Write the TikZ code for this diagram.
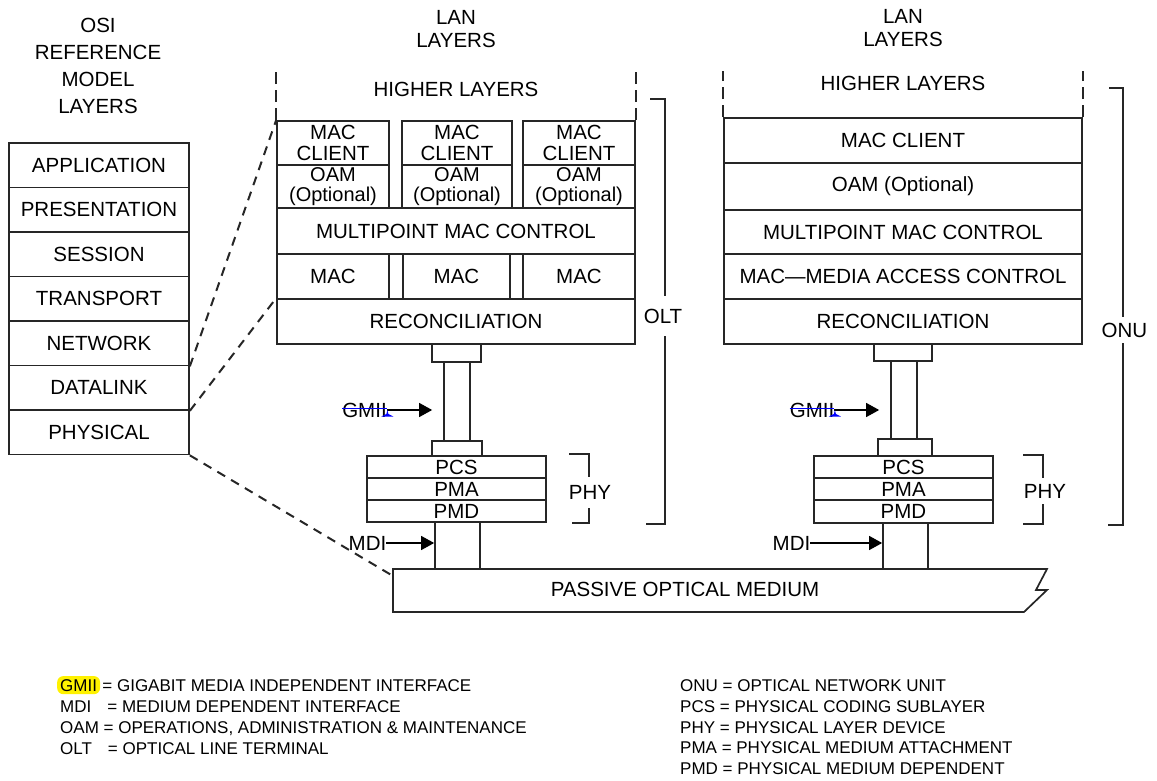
\documentclass[tikz,border=0pt]{standalone}
\usepackage{fontspec}
\setmainfont{Liberation Sans}
\usetikzlibrary{arrows.meta,positioning,calc}

\newcommand\diagfont{\fontsize{20.5}{21}\selectfont}
\newcommand\keyfont{\fontsize{17}{20}\selectfont}

\tikzset{
  stackbox/.style={draw=black!85, line width=1.7pt, inner sep=0pt, align=center, font=\diagfont},
  oamtext/.style={font={\fontsize{20}{19.5}\selectfont}},
  lbl/.style={inner sep=0pt, align=center, font=\diagfont},
  keytext/.style={inner sep=0pt, font=\keyfont, anchor=base west},
  zoomline/.style={black!85, line width=2pt, dash pattern=on 9pt off 7pt},
  higher/.style={black!85, line width=2.6pt, dash pattern=on 12pt off 6pt},
  brace/.style={black!85, line width=1.3pt},
  pointer/.style={black, line width=1.3pt, -{Triangle[length=13pt,width=14pt]}},
  strike/.style={blue, line width=1.6pt},
}

\begin{document}
\begin{tikzpicture}[x=1pt,y=-1pt]
\useasboundingbox (0,0) rectangle (1157,781);

% OSI reference model
\node[lbl, font={\fontsize{20.5}{27}\selectfont}] (osititle) at (98,66) {OSI\\REFERENCE\\MODEL\\LAYERS};
\node[stackbox, minimum width=180pt, minimum height=44.5pt] (application) at (99,165.25) {APPLICATION};
\node[stackbox, minimum width=180pt, minimum height=44.5pt] (presentation) at (99,209.75) {PRESENTATION};
\node[stackbox, minimum width=180pt, minimum height=44.5pt] (session) at (99,254.25) {SESSION};
\node[stackbox, minimum width=180pt, minimum height=44.5pt] (transport) at (99,298.75) {TRANSPORT};
\node[stackbox, minimum width=180pt, minimum height=44.5pt] (network) at (99,343.25) {NETWORK};
\node[stackbox, minimum width=180pt, minimum height=44.5pt] (datalink) at (99,387.75) {DATALINK};
\node[stackbox, minimum width=180pt, minimum height=44.5pt] (physical) at (99,432.25) {PHYSICAL};

% OLT side
\node[lbl, font={\fontsize{20.5}{23}\selectfont}] (lanolt) at (456,29) {LAN\\LAYERS};
\node[lbl] (higherolt) at (456,89) {HIGHER LAYERS};
\node[stackbox, minimum width=112pt, minimum height=44pt] (clienta) at (333,143) {MAC\\CLIENT};
\node[stackbox, minimum width=110pt, minimum height=44pt] (clientb) at (457,143) {MAC\\CLIENT};
\node[stackbox, minimum width=112pt, minimum height=44pt] (clientc) at (579,143) {MAC\\CLIENT};
\node[stackbox, oamtext, minimum width=112pt, minimum height=43pt] (oama) at (333,186.5) {OAM\\(Optional)};
\node[stackbox, oamtext, minimum width=110pt, minimum height=43pt] (oamb) at (457,186.5) {OAM\\(Optional)};
\node[stackbox, oamtext, minimum width=112pt, minimum height=43pt] (oamc) at (579,186.5) {OAM\\(Optional)};
\node[stackbox, minimum width=358pt, minimum height=46pt] (mpcolt) at (456,231) {MULTIPOINT MAC CONTROL};
\node[stackbox, minimum width=112pt, minimum height=45pt] (maca) at (333,276.5) {MAC};
\node[stackbox, minimum width=107pt, minimum height=45pt] (macb) at (456.5,276.5) {MAC};
\node[stackbox, minimum width=112pt, minimum height=45pt] (macc) at (579,276.5) {MAC};
\node[stackbox, minimum width=358pt, minimum height=45pt] (reconolt) at (456,321.5) {RECONCILIATION};
\draw[higher] (clienta.north west) -- ++(0,-49);
\draw[higher] (clientc.north east) -- ++(0,-49);

\node[stackbox, minimum width=49pt, minimum height=18pt] (gmiitopolt) at (456.5,353) {};
\node[stackbox, minimum width=26pt, minimum height=79pt] (shaftolt) at (457,401.5) {};
\node[stackbox, minimum width=50pt, minimum height=15pt] (gmiibotolt) at (457,448.5) {};
\node[stackbox, minimum width=179pt, minimum height=22pt] (pcsolt) at (456.5,467) {PCS};
\node[stackbox, minimum width=179pt, minimum height=22pt] (pmaolt) at (456.5,489) {PMA};
\node[stackbox, minimum width=179pt, minimum height=22pt] (pmdolt) at (456.5,511) {PMD};
\node[stackbox, minimum width=45pt, minimum height=47pt] (mdiolt) at (457.5,545.5) {};

\node[lbl] (gmiiolt) at (364.5,410) {GMII};
\draw[pointer, shorten >=11pt] (gmiiolt.east) -- (gmiiolt.east -| shaftolt.west);
\draw[strike] ([yshift=1.5pt]gmiiolt.west) -- ([yshift=1.5pt]gmiiolt.east);
\fill[blue] ($(gmiiolt.east)+(0.5,0)$) -- ++(1,4) -- ++(5,2.5) -- ++(-12,0) -- ++(5,-2.5) -- cycle;
\node[lbl] (mdilabolt) at (367.5,543) {MDI};
\draw[pointer] (mdilabolt.east) -- (mdilabolt.east -| mdiolt.west);

\draw[brace] (569,454) -| (589,523) -- (572,523);
\node[lbl, fill=white, inner xsep=1pt, inner ysep=8pt] (phyolt) at (590,492.5) {PHY};
\draw[brace] (650,99) -| (665,524) -- (646,524);
\node[lbl, fill=white, inner xsep=1pt, inner ysep=12.5pt] (oltlab) at (663,316) {OLT};

% ONU side
\node[lbl, font={\fontsize{20.5}{23}\selectfont}] (lanonu) at (903,28.5) {LAN\\LAYERS};
\node[lbl] (higheronu) at (903,83) {HIGHER LAYERS};
\node[stackbox, minimum width=358pt, minimum height=45pt] (clientonu) at (903,140.5) {MAC CLIENT};
\node[stackbox, minimum width=358pt, minimum height=47pt] (oamonu) at (903,186.5) {OAM (Optional)};
\node[stackbox, minimum width=358pt, minimum height=44pt] (mpconu) at (903,232) {MULTIPOINT MAC CONTROL};
\node[stackbox, minimum width=358pt, minimum height=45pt] (maconu) at (903,276.5) {MAC---MEDIA ACCESS CONTROL};
\node[stackbox, minimum width=358pt, minimum height=45pt] (reconu) at (903,321.5) {RECONCILIATION};
\draw[higher] (clientonu.north west) -- ++(0,-46);
\draw[higher] (clientonu.north east) -- ++(0,-46);

\node[stackbox, minimum width=58pt, minimum height=17pt] (gmiitoponu) at (903,352.5) {};
\node[stackbox, minimum width=26pt, minimum height=78pt] (shaftonu) at (904,400) {};
\node[stackbox, minimum width=54pt, minimum height=17pt] (gmiibotonu) at (905,447.5) {};
\node[stackbox, minimum width=179pt, minimum height=22pt] (pcsonu) at (903.5,467) {PCS};
\node[stackbox, minimum width=179pt, minimum height=22pt] (pmaonu) at (903.5,489) {PMA};
\node[stackbox, minimum width=179pt, minimum height=23pt] (pmdonu) at (903.5,511.5) {PMD};
\node[stackbox, minimum width=45pt, minimum height=46pt] (mdionu) at (905.5,546) {};

\node[lbl] (gmiionu) at (812,410) {GMII};
\draw[pointer, shorten >=11pt] (gmiionu.east) -- (gmiionu.east -| shaftonu.west);
\draw[strike] ([yshift=1.5pt]gmiionu.west) -- ([yshift=1.5pt]gmiionu.east);
\fill[blue] ($(gmiionu.east)+(0.5,0)$) -- ++(1,4) -- ++(5,2.5) -- ++(-12,0) -- ++(5,-2.5) -- cycle;
\node[lbl] (mdilabonu) at (791.5,543) {MDI};
\draw[pointer] (mdilabonu.east) -- (mdilabonu.east -| mdionu.west);

\draw[brace] (1023,455) -| (1043,524) -- (1023,524);
\node[lbl, fill=white, inner xsep=1pt, inner ysep=6pt] (phyonu) at (1045,491) {PHY};
\draw[brace] (1109,88) -| (1123,525) -- (1108,525);
\node[lbl, fill=white, inner xsep=1pt, inner ysep=6pt] (onulab) at (1124.5,330) {ONU};

% passive optical medium
\draw[black!85, line width=1.7pt] (393,569) -- (1047,569) -- (1036,590) -- (1047,590) -- (1024,612) -- (393,612) -- cycle;
\node[lbl] (pom) at (685,589) {PASSIVE OPTICAL MEDIUM};
\coordinate (pomedge) at (393,576);

% zoom lines from the OSI stack
\draw[zoomline] (network.south east) -- (clienta.north west);
\draw[zoomline] (datalink.south east) -- (reconolt.north west);
\draw[zoomline] (physical.south east) -- (pomedge);

% key
\node[keytext, fill=yellow, rounded corners=6pt, inner xsep=3pt, inner ysep=3pt] (kgmii) at (57,691) {GMII};
\node[keytext, anchor=west, right=2pt of kgmii] (kgmiidef) {= GIGABIT MEDIA INDEPENDENT INTERFACE};
\node[keytext] (kmdi) at (60,712) {MDI\hspace{16pt}= MEDIUM DEPENDENT INTERFACE};
\node[keytext] (koam) at (60,733) {OAM = OPERATIONS, ADMINISTRATION \& MAINTENANCE};
\node[keytext] (kolt) at (60,754) {OLT\hspace{16pt}= OPTICAL LINE TERMINAL};
\node[keytext] (konu) at (680,691) {ONU = OPTICAL NETWORK UNIT};
\node[keytext] (kpcs) at (680,712) {PCS = PHYSICAL CODING SUBLAYER};
\node[keytext] (kphy) at (680,733) {PHY = PHYSICAL LAYER DEVICE};
\node[keytext] (kpma) at (680,753) {PMA = PHYSICAL MEDIUM ATTACHMENT};
\node[keytext] (kpmd) at (680,774) {PMD = PHYSICAL MEDIUM DEPENDENT};
\end{tikzpicture}
\end{document}
